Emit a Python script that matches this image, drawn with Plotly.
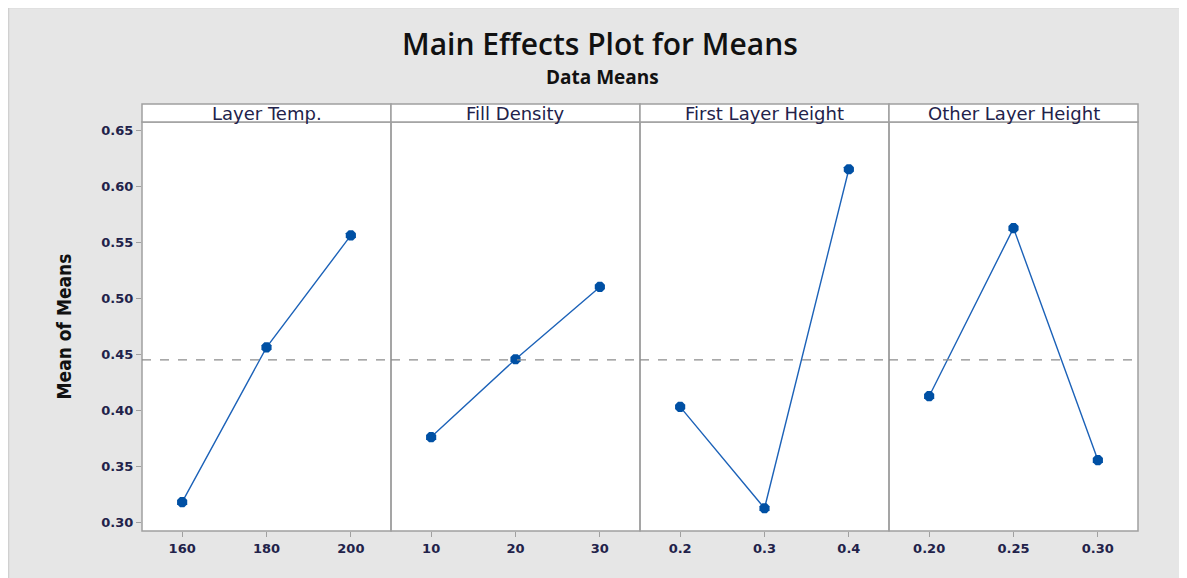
import plotly.graph_objects as go
from plotly.subplots import make_subplots

# ---- data ----
factors = ["Layer Temp.", "Fill Density", "First Layer Height", "Other Layer Height"]
levels_temp = [160, 180, 200]
levels_fill = [10, 20, 30]
levels_first = [0.2, 0.3, 0.4]
levels_other = [0.20, 0.25, 0.30]
labels_temp = ["160", "180", "200"]
labels_fill = ["10", "20", "30"]
labels_first = ["0.2", "0.3", "0.4"]
labels_other = ["0.20", "0.25", "0.30"]
means_temp = [0.318, 0.456, 0.556]
means_fill = [0.376, 0.4455, 0.510]
means_first = [0.403, 0.3125, 0.615]
means_other = [0.4125, 0.5625, 0.3555]
grand_mean = 0.445
y_ticks = [0.30, 0.35, 0.40, 0.45, 0.50, 0.55, 0.60, 0.65]

panels = [
    (levels_temp, labels_temp, means_temp),
    (levels_fill, labels_fill, means_fill),
    (levels_first, labels_first, means_first),
    (levels_other, labels_other, means_other),
]

# ---- geometry (page offset of the figure inside the browser page) ----
OFF = 7
W, H = 1179, 570
ML, MT = 141 - OFF, 121 - OFF
PW, PH = 996, 409
MR, MB = W - ML - PW, H - MT - PH


def px(x):
    return (x - OFF - ML) / PW


def py(y):
    return (H - MB - (y - OFF)) / PH


fig = make_subplots(rows=1, cols=4, shared_yaxes=True, horizontal_spacing=0)

LINE_BLUE = "#1c62b8"
MARK_BLUE = "#0050a4"
AX_GREY = "#a0a0a0"
TXT = "#22224a"
TICKFONT = dict(family="DejaVu Sans", size=13, color=TXT, weight="bold")

for i, (lv, lb, mn) in enumerate(panels, start=1):
    fig.add_trace(
        go.Scatter(
            x=lv, y=mn, mode="lines+markers",
            line=dict(color=LINE_BLUE, width=1.4),
            marker=dict(color=MARK_BLUE, size=11, symbol="octagon"),
            showlegend=False, hoverinfo="x+y",
        ),
        row=1, col=i,
    )
    step = lv[1] - lv[0]
    pad = step * 0.476
    fig.update_xaxes(
        row=1, col=i,
        range=[lv[0] - pad, lv[-1] + pad],
        tickvals=lv, ticktext=lb,
        ticks="outside", ticklen=5, tickcolor=AX_GREY, tickwidth=1.2,
        showline=False, showgrid=False, zeroline=False, automargin=False,
        tickfont=TICKFONT,
    )
    fig.update_yaxes(
        row=1, col=i,
        range=[0.2922, 0.6572],
        showline=False, showgrid=False, zeroline=False, automargin=False,
    )

fig.update_yaxes(
    row=1, col=1,
    tickvals=y_ticks, ticktext=[f"{v:.2f}" for v in y_ticks],
    ticks="outside", ticklen=5, tickcolor=AX_GREY, tickwidth=1.2,
    tickfont=TICKFONT,
    title=dict(text="Mean of Means", standoff=24,
               font=dict(family="DejaVu Sans Condensed", size=19, color="#111111", weight="bold")),
)

shapes = [
    # faint left / top border of the grey background
    dict(type="line", xref="paper", yref="paper", layer="below",
         x0=px(7.5), x1=px(7.5), y0=py(620), y1=py(6.5),
         line=dict(color="#d0d0d0", width=1.5)),
    dict(type="line", xref="paper", yref="paper", layer="below",
         x0=px(7.5), x1=px(1220), y0=py(6.5), y1=py(6.5),
         line=dict(color="#d0d0d0", width=1.5)),
    # white plot area
    dict(type="rect", xref="paper", yref="paper", layer="below",
         x0=0, x1=1, y0=0, y1=1, fillcolor="white", line=dict(width=0)),
]
annotations = []
for i, name in enumerate(factors):
    x0, x1 = i / 4, (i + 1) / 4
    shapes.append(dict(type="rect", xref="paper", yref="paper",
                       x0=x0, x1=x1, y0=0, y1=1,
                       fillcolor="rgba(0,0,0,0)", line=dict(color=AX_GREY, width=1.5)))
    shapes.append(dict(type="rect", xref="paper", yref="paper",
                       x0=x0, x1=x1, y0=1, y1=py(103),
                       fillcolor="white", line=dict(color=AX_GREY, width=1.5)))
    annotations.append(dict(text=name, xref="paper", yref="paper",
                            x=(x0 + x1) / 2, y=(1 + py(103)) / 2, showarrow=False,
                            xanchor="center", yanchor="middle",
                            font=dict(family="DejaVu Sans", size=18, color=TXT)))

annotations.append(dict(text="Main Effects Plot for Means", xref="paper", yref="paper",
                        x=px(599), y=py(43), showarrow=False, xanchor="center", yanchor="middle",
                        font=dict(family="Open Sans", size=30, color="#111111", weight=600)))
annotations.append(dict(text="Data Means", xref="paper", yref="paper",
                        x=px(601), y=py(76), showarrow=False, xanchor="center", yanchor="middle",
                        font=dict(family="Open Sans", size=19, color="#111111", weight="bold")))

fig.update_layout(
    width=W, height=H,
    margin=dict(l=ML, r=MR, t=MT, b=MB),
    paper_bgcolor="#e6e6e6", plot_bgcolor="white",
)
fig.layout.shapes = shapes
fig.layout.annotations = annotations

fig.add_hline(y=grand_mean, line=dict(color="#8c8c8c", width=1.3, dash="dash"),
              row=1, col="all")

fig.write_html("out.html")
